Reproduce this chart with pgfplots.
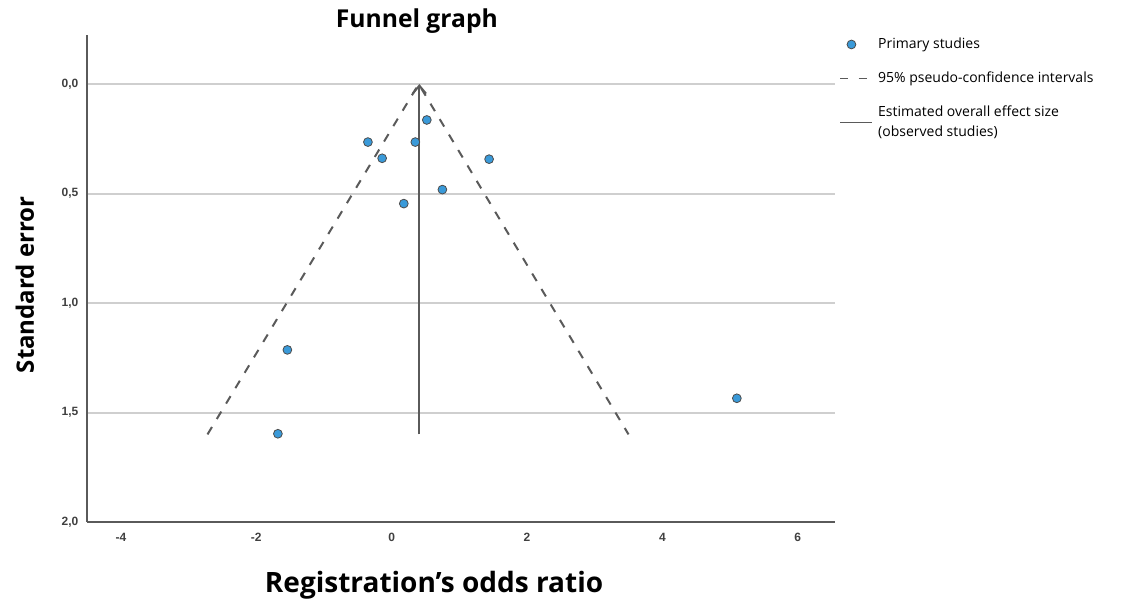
\documentclass[border=0pt]{standalone}
\usepackage{pgfplots}
\pgfplotsset{compat=1.18}
\usepackage{fontspec}
\setmainfont{Open Sans}
\newfontfamily\tickfont{Liberation Sans}
\usetikzlibrary{arrows.meta}
\definecolor{ptblue}{HTML}{3A9AD9}
\definecolor{axgray}{HTML}{5A5A5A}
\definecolor{gridgray}{HTML}{CFCFCF}
\begin{document}
\begin{tikzpicture}[x=0.75pt,y=0.75pt]
\path[use as bounding box] (-87,-80) rectangle (1050,522);
\begin{axis}[
  at={(0,0)}, anchor=south west,
  scale only axis, width=561pt, height=365.25pt,
  xmin=-4.5, xmax=6.55, ymin=-0.224, ymax=2.0,
  y dir=reverse,
  axis x line*=bottom, axis y line*=left,
  axis line style={axgray, line width=1.7pt, -},
  xtick={-4,-2,0,2,4,6}, ytick={0,0.5,1,1.5,2},
  major tick length=0pt,
  ymajorgrids, grid style={gridgray, line width=1.5pt},
  /pgf/number format/assume math mode=true,
  ticklabel style={font=\tickfont\bfseries\fontsize{9}{10}\selectfont, text=black!75},
  yticklabel style={/pgf/number format/.cd, use comma, fixed, fixed zerofill, precision=1},
  xticklabel style={/pgf/number format/.cd, fixed, precision=0},
  xticklabel shift=5pt, yticklabel shift=3pt,
  clip=false,
  legend style={at={(rel axis cs:1.0,1.005)}, anchor=north west, draw=none, fill=none,
    font=\fontsize{10.5}{15}\selectfont, row sep=12pt, cells={align=left, anchor=west}},
  legend cell align=left,
]
\addplot[only marks, mark=*, mark size=3.3pt, mark options={fill=ptblue, draw=black!70, line width=0.6pt}] coordinates {
(-0.35,0.265) (-0.14,0.339) (0.35,0.265) (0.52,0.164) (1.44,0.343)
(0.75,0.482) (0.18,0.546) (-1.54,1.214) (-1.68,1.597) (5.10,1.435)
};
\addlegendentry{Primary studies}
\addplot[axgray, line width=1.5pt, dash pattern=on 6.5pt off 7pt,
  legend image code/.code={\draw[axgray, line width=1.2pt, dash pattern=on 6pt off 8pt] (0pt,0pt) -- (26pt,0pt);}]
  coordinates {(-2.72,1.6) (0.40,0) (3.50,1.6)};
\addlegendentry{95\% pseudo-confidence intervals}
\addplot[axgray, line width=1.5pt, -{Straight Barb[length=6pt,width=10pt]}, forget plot] coordinates {(0.41,1.6) (0.41,0)};
\addlegendimage{legend image code/.code={\draw[axgray, line width=1.2pt] (0pt,0pt) -- (24pt,0pt); \path (0pt,-6pt);}}
\addlegendentry{Estimated overall effect size\\(observed studies)}
\node[font=\bfseries\fontsize{18.5}{21}\selectfont, anchor=center] at (rel axis cs:0.441,1.028) {Funnel graph};
\node[font=\bfseries\fontsize{21}{24}\selectfont, anchor=center] at (rel axis cs:0.464,-0.13) {Registration’s odds ratio};
\node[font=\bfseries\fontsize{18}{21}\selectfont, anchor=center, rotate=90] at (rel axis cs:-0.083,0.487) {Standard error};
\end{axis}
\end{tikzpicture}
\end{document}
